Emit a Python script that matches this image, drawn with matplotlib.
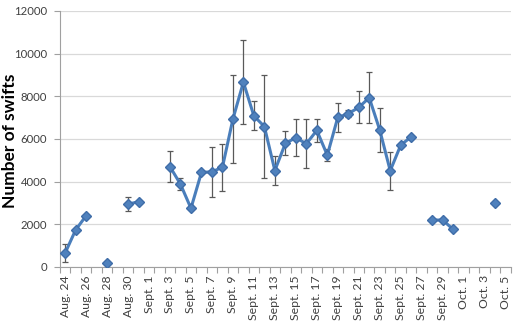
import numpy as np
import matplotlib
matplotlib.use("Agg")
import matplotlib.pyplot as plt

# Dates from Aug 24 to Oct 5 (one category per day)
dates = (["Aug. %d" % d for d in range(24, 32)] +
         ["Sept. %d" % d for d in range(1, 31)] +
         ["Oct. %d" % d for d in range(1, 6)])

nan = np.nan
# Mean number of swifts per day (NaN = no count)
counts = [650, 1730, 2400, nan, 180, nan, 2950, 3050,            # Aug 24-31
          nan, nan, 4700, 3880, 2750, 4430, 4460, 4670, 6930, 8660,  # Sept 1-10
          7080, 6580, 4520, 5790, 6060, 5770, 6400, 5240, 7010, 7180,  # Sept 11-20
          7480, 7930, 6420, 4510, 5710, 6100, nan, 2200, 2200, 1760,  # Sept 21-30
          nan, nan, nan, 3000, nan]                                # Oct 1-5
# Error (± half range) per day
errors = [430, 0, 0, 0, 0, 0, 345, 0,
          0, 0, 720, 285, 0, 0, 1165, 1095, 2055, 1960,
          675, 2405, 675, 565, 880, 1145, 550, 295, 685, 165,
          745, 1205, 1030, 890, 0, 0, 0, 0, 0, 0,
          0, 0, 0, 0, 0]

y_ticks = [0, 2000, 4000, 6000, 8000, 10000, 12000]

FONT = "Lato"
fig = plt.figure(figsize=(5.16, 3.30), dpi=100)
ax = fig.add_axes([0.116, 0.191, 0.874, 0.776])

x = np.arange(len(dates))
c = np.array(counts, dtype=float)
e = np.array(errors, dtype=float)
mask = e > 0

ax.errorbar(x[mask], c[mask], yerr=e[mask], fmt="none", ecolor="#595959",
            elinewidth=0.9, capsize=2.2, capthick=0.9, zorder=2)
ax.plot(x, c, color="#4A7EBB", lw=2.2, marker="D", markersize=5.5,
        markerfacecolor="#4F81BD", markeredgecolor="#3F6DA8", zorder=3)

ax.set_xlim(-0.5, len(dates) - 0.5)
ax.set_ylim(0, 12000)
ax.set_yticks(y_ticks)
ax.set_yticklabels([str(v) for v in y_ticks], fontsize=8.2, family=FONT,
                   color="#404040")
ax.yaxis.grid(True, color="#D9D9D9", lw=0.9)
ax.set_axisbelow(True)

ax.set_xticks(x[::2])
ax.set_xticklabels(dates[::2], rotation=90, fontsize=8.8, family=FONT,
                   color="#404040")
ax.set_xticks(np.arange(len(dates) + 1) - 0.5, minor=True)
ax.tick_params(axis="x", which="major", length=0, pad=6)
ax.tick_params(axis="x", which="minor", length=4, color="#A0A0A0", width=0.8)
ax.tick_params(axis="y", length=4, color="#A0A0A0", width=0.8, pad=5)

for s in ["top", "right"]:
    ax.spines[s].set_visible(False)
for s in ["left", "bottom"]:
    ax.spines[s].set_color("#A0A0A0")
    ax.spines[s].set_linewidth(0.8)

fig.text(0.019, 0.573, "Number of swifts", rotation=90, fontsize=12.5,
         fontweight="bold", family=FONT, ha="center", va="center")

fig.savefig("out.png", dpi=100)
